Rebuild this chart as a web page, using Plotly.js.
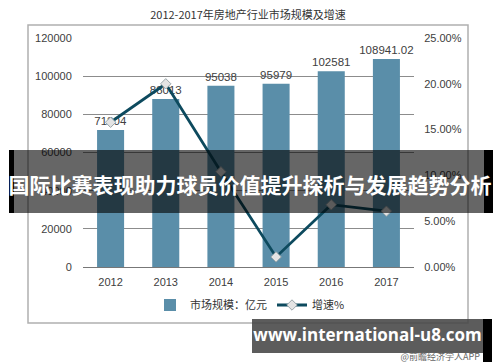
<!DOCTYPE html>
<html>
<head>
<meta charset="utf-8">
<script src="https://cdn.plot.ly/plotly-3.0.1.min.js"></script>
<style>
  html, body { margin: 0; padding: 0; background: #fff; }
  #wrap { position: relative; width: 500px; height: 362px; overflow: hidden; }
  #chart { width: 500px; height: 362px; }
  .ov { position: absolute; }
</style>
</head>
<body>
<div id="wrap">
  <div id="chart"></div>
  <div class="ov" style="left:9px;top:150px;width:483px;height:63px;background:rgba(0,0,0,0.6);"></div>
  <div class="ov" style="left:9px;top:150px;width:5px;height:63px;background:#000;"></div>
  <div class="ov" style="left:484px;top:150px;width:9px;height:63px;background:#000;"></div>
  <div class="ov" style="left:0;top:170px;width:500px;text-align:center;color:#fff;font-family:'Noto Sans CJK SC','Noto Sans',sans-serif;font-weight:bold;font-size:21px;line-height:28px;letter-spacing:0px;white-space:nowrap;">国际比赛表现助力球员价值提升探析与发展趋势分析</div>
  <div class="ov" style="left:252px;top:319px;width:231px;height:34px;background:rgba(70,70,70,0.88);"></div>
  <div class="ov" style="left:483px;top:319px;width:9px;height:43px;background:#000;"></div>
  <div class="ov" style="left:252px;top:323px;width:231px;text-align:center;color:#fff;font-family:'Open Sans','DejaVu Sans',sans-serif;font-weight:bold;font-size:17px;line-height:24px;white-space:nowrap;">www.international-u8.com</div>
  <div class="ov" style="left:380px;top:351px;width:100px;text-align:right;color:#666;font-family:'Noto Sans CJK SC',sans-serif;font-size:9px;line-height:11px;white-space:nowrap;">@前瞻经济学人APP</div>
</div>
<script>
const years = ['2012', '2013', '2014', '2015', '2016', '2017'];
const marketSize = [71804, 88013, 95038, 95979, 102581, 108941.02];
const marketLabels = ['71804', '88013', '95038', '95979', '102581', '108941.02'];
const growthRate = [0.158, 0.200, 0.104, 0.011, 0.068, 0.061];
const leftTicks = [0, 20000, 40000, 60000, 80000, 100000, 120000];

const W = 500, H = 362;
const plotL = 83, plotR = 414, plotT = 38, plotB = 267;
const px = x => (x - plotL) / (plotR - plotL);
const py = y => (plotB - y) / (plotB - plotT);

const tickFont = {family: 'Liberation Sans, Arial, sans-serif', size: 11, color: '#404040'};

const traces = [
  {
    type: 'bar',
    name: '市场规模：亿元',
    x: years,
    y: marketSize,
    text: marketLabels,
    textposition: 'outside',
    constraintext: 'none',
    textfont: {family: 'Liberation Sans, Arial, sans-serif', size: 11.5, color: '#404040'},
    cliponaxis: false,
    marker: {color: '#5a8ea9'},
    hoverinfo: 'none'
  },
  {
    type: 'scatter',
    mode: 'lines+markers',
    name: '增速%',
    x: years,
    y: growthRate,
    yaxis: 'y2',
    line: {color: '#0d4a5e', width: 2.8},
    marker: {symbol: 'diamond', size: 8, color: '#e4e4e4', line: {color: '#9aa6aa', width: 1}},
    cliponaxis: false,
    hoverinfo: 'none'
  }
];

const layout = {
  width: W, height: H,
  margin: {l: plotL, r: W - plotR, t: plotT, b: H - plotB, pad: 0},
  paper_bgcolor: '#ffffff',
  plot_bgcolor: 'rgba(0,0,0,0)',
  showlegend: true,
  title: {
    text: '2012-2017年房地产行业市场规模及增速',
    font: {family: 'Noto Sans CJK SC, sans-serif', size: 11, color: '#333'},
    x: 0.496, xref: 'container', xanchor: 'center',
    y: 1 - 15 / H, yref: 'container', yanchor: 'middle'
  },
  bargap: 0.51,
  xaxis: {
    type: 'category',
    tickfont: tickFont,
    ticks: 'outside', ticklen: 5, tickcolor: 'rgba(0,0,0,0)',
    showline: false, showgrid: false, zeroline: false
  },
  yaxis: {
    range: [0, 120000],
    tickvals: leftTicks,
    ticktext: leftTicks.map(String),
    tickfont: tickFont,
    ticks: 'outside', ticklen: 8, tickcolor: 'rgba(0,0,0,0)',
    showgrid: true, gridcolor: '#8c8c8c', gridwidth: 1,
    zeroline: true, zerolinecolor: '#777', zerolinewidth: 1,
    showline: false, fixedrange: true
  },
  yaxis2: {
    overlaying: 'y', side: 'right',
    range: [0, 0.25],
    dtick: 0.05,
    tickformat: '.2%',
    tickfont: tickFont,
    ticks: 'outside', ticklen: 7, tickcolor: 'rgba(0,0,0,0)',
    showgrid: false, zeroline: false, showline: false
  },
  legend: {
    orientation: 'h',
    x: px(250), xanchor: 'center',
    y: py(305), yanchor: 'middle',
    font: {family: 'Noto Sans CJK SC, sans-serif', size: 11, color: '#333'},
    bgcolor: 'rgba(0,0,0,0)',
    itemwidth: 30
  },
  shapes: [
    {type: 'rect', xref: 'paper', yref: 'paper', layer: 'below',
     x0: px(28), x1: px(468), y0: py(323), y1: py(25),
     line: {color: '#b0b0b0', width: 1.5}, fillcolor: 'rgba(0,0,0,0)'}
  ]
};

Plotly.newPlot('chart', traces, layout, {displayModeBar: false, staticPlot: true});
</script>
</body>
</html>
